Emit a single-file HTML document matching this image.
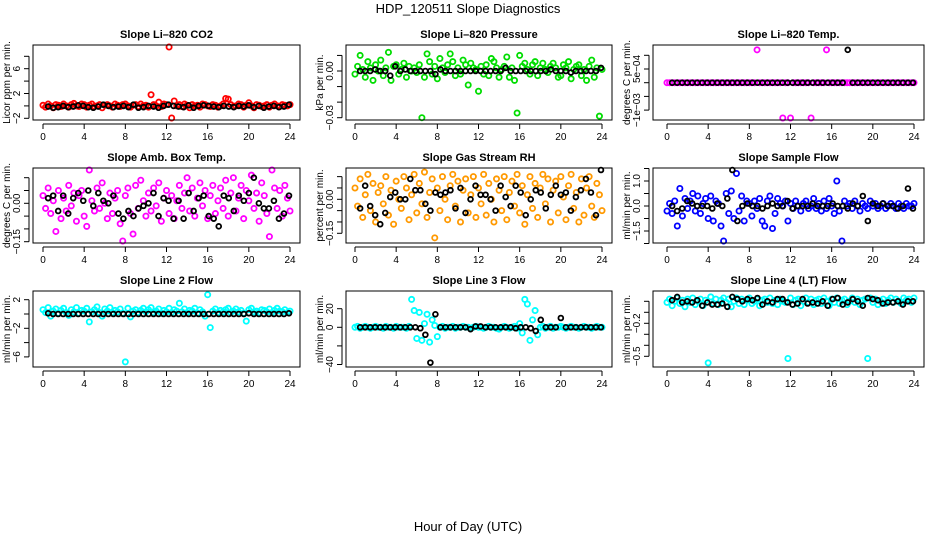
<!DOCTYPE html>
<html><head><meta charset="utf-8">
<style>
html,body{margin:0;padding:0;background:#fff;}
svg{display:block;font-family:"Liberation Sans",Arial,sans-serif;}
</style></head>
<body>
<svg id="chart" width="936" height="540" viewBox="0 0 936 540" xmlns="http://www.w3.org/2000/svg">
<rect width="936" height="540" fill="#fff"/>
<text x="468" y="13" text-anchor="middle" font-size="13">HDP_120511  Slope Diagnostics</text>
<text x="468" y="531" text-anchor="middle" font-size="13">Hour of Day (UTC)</text>
<g id="panels"></g>
</svg>
<script>
// ---- data (values per panel); colored series ~ every 15 min, black series ~ every 30 min ----
const xTicks = [0,4,8,12,16,20,24];

const co2Col = [0.1,-0.2,0.3,0.0,-0.3,0.2,0.1,-0.1,0.3,0.0,-0.2,0.2,0.4,0.0,-0.1,0.3,0.2,-0.2,0.1,0.3,-0.1,0.0,0.2,-0.3,0.1,0.2,0.0,-0.2,0.3,0.1,-0.1,0.2,0.3,0.0,-0.2,0.1,0.2,-0.1,0.3,0.0,0.1,-0.2,1.8,0.2,0.0,0.6,-0.1,0.3,0.2,9.5,-2.0,0.8,0.0,0.2,-0.1,0.3,0.1,-0.3,0.2,0.0,0.1,-0.2,0.3,0.2,0.0,-0.1,0.2,0.1,-0.2,0.0,0.3,1.2,1.1,0.2,-0.1,0.0,0.3,0.2,-0.2,0.1,0.5,0.0,-0.3,0.2,0.1,-0.1,0.0,0.2,-0.2,0.1,0.3,0.0,-0.1,0.2,0.1,0.0,0.2];
const co2Blk = [-0.1,-0.3,-0.2,0.0,-0.2,-0.1,0.1,0.0,-0.2,-0.3,-0.1,0.2,0.0,-0.2,-0.1,0.0,-0.2,0.2,-0.3,-0.2,0.0,-0.1,-0.3,0.0,0.2,0.0,-0.1,-0.2,0.1,-0.3,0.0,0.1,0.0,-0.1,-0.2,0.0,-0.1,-0.2,0.0,-0.1,0.1,-0.2,0.0,-0.3,-0.1,0.0,-0.2,-0.1,0.2];

const presCol = [-0.002,0.003,0.010,0.001,-0.004,0.006,0.002,-0.006,0.004,0.000,0.007,-0.003,0.002,0.012,-0.006,0.003,0.004,-0.002,0.001,0.005,-0.004,0.003,0.000,0.002,-0.001,0.004,-0.030,-0.004,0.011,0.006,-0.002,0.003,-0.005,0.008,0.002,-0.001,0.004,0.011,0.006,-0.003,0.002,-0.002,0.007,0.004,-0.009,0.005,0.002,0.001,-0.013,0.003,-0.002,0.004,-0.003,0.008,0.006,0.002,-0.004,0.001,0.003,0.009,-0.004,0.002,-0.006,-0.027,0.010,0.003,0.005,0.001,-0.002,0.004,0.006,-0.003,0.002,0.005,0.001,-0.001,0.003,0.005,0.002,-0.004,-0.003,0.004,0.002,0.006,-0.005,0.001,0.003,0.004,-0.003,0.001,-0.006,0.003,0.007,-0.004,0.002,-0.029,0.001];
const presBlk = [0.000,0.000,0.000,0.001,0.000,0.000,-0.003,0.003,0.000,0.001,0.000,0.000,0.000,0.000,0.000,-0.002,0.001,0.000,0.000,0.000,0.000,0.000,0.000,0.000,0.000,0.000,0.000,0.000,0.000,0.002,0.000,0.000,0.000,0.000,0.000,0.000,0.000,0.000,0.001,0.000,0.000,0.000,-0.001,0.000,0.000,0.000,0.000,0.000,0.002];

const tempCol = [0,0,0,0,0,0,0,0,0,0,0,0,0,0,0,0,0,0,0,0,0,0,0,0,0,0,0,0,0,0,0,0,0,0,0,0.0012,0,0,0,0,0,0,0,0,0,-0.0013,0,0,-0.0013,0,0,0,0,0,0,0,-0.0013,0,0,0,0,0,0.0012,0,0,0,0,0,0,0,0,0,0,0,0,0,0,0,0,0,0,0,0,0,0,0,0,0,0,0,0,0,0,0,0,0,0];
const tempBlk = [0,0,0,0,0,0,0,0,0,0,0,0,0,0,0,0,0,0,0,0,0,0,0,0,0,0,0,0,0,0,0,0,0,0,0,0.0012,0,0,0,0,0,0,0,0,0,0,0,0,0];

const ambCol = [0.03,-0.02,0.06,-0.04,0.01,-0.11,0.05,-0.06,0.02,-0.03,0.07,-0.01,0.04,-0.07,0.03,0.05,-0.05,-0.09,0.14,0.01,-0.03,0.06,-0.02,0.08,0.0,-0.06,0.04,-0.04,0.02,0.05,-0.08,-0.15,0.03,0.06,-0.04,-0.12,0.07,-0.02,0.09,0.01,-0.05,0.04,-0.03,0.06,-0.01,0.08,-0.07,0.02,0.05,-0.04,0.03,-0.06,0.01,0.07,-0.02,0.04,0.10,-0.03,0.06,-0.05,0.02,0.08,-0.01,0.05,-0.06,0.03,0.07,-0.04,0.01,0.06,-0.02,0.09,-0.05,0.04,0.10,-0.03,0.02,0.07,-0.06,0.05,0.01,0.11,-0.02,0.04,-0.07,0.08,0.03,-0.04,-0.13,0.135,0.06,-0.02,0.05,-0.05,0.07,0.02,-0.03];
const ambBlk = [0.02,0.03,-0.03,0.03,-0.04,0.02,0.04,0.01,0.05,-0.01,0.04,0.01,0.0,0.03,-0.04,-0.06,-0.03,-0.05,-0.02,-0.01,0.0,0.04,-0.05,0.02,0.01,-0.06,0.01,-0.06,0.04,-0.03,0.02,0.03,-0.05,-0.06,-0.09,0.03,0.02,-0.03,0.03,0.01,0.04,0.1,0.0,-0.02,-0.02,0.01,-0.06,-0.04,0.03];

const rhCol = [0.05,-0.03,0.09,-0.08,0.02,0.11,-0.05,0.07,-0.1,0.03,0.06,-0.02,0.1,-0.07,0.04,-0.11,0.08,0.0,-0.04,0.1,0.05,-0.09,0.02,0.11,-0.06,0.07,-0.02,0.12,-0.08,0.03,0.09,-0.17,0.05,-0.05,0.1,0.0,-0.09,0.06,0.11,-0.03,0.08,-0.1,0.04,0.09,-0.06,0.02,0.1,-0.08,0.05,-0.02,0.11,-0.07,0.07,0.0,-0.1,0.09,0.04,-0.05,0.1,-0.09,0.03,0.08,-0.03,0.11,-0.06,0.06,-0.11,0.02,0.1,-0.04,0.07,-0.08,0.05,0.11,-0.02,0.09,-0.1,0.04,0.08,-0.06,0.1,0.01,-0.09,0.06,0.11,-0.04,0.03,-0.1,0.09,-0.07,0.05,0.1,-0.03,-0.08,0.07,0.02,-0.05];
const rhBlk = [-0.04,0.06,-0.03,-0.07,-0.11,-0.06,0.01,0.03,-0.0,0.0,0.09,0.04,0.04,-0.02,-0.05,0.03,0.02,0.03,0.04,-0.04,0.05,-0.06,0.0,0.06,0.02,0.02,0.0,-0.05,0.06,0.01,-0.03,0.06,0.03,-0.07,0.0,0.04,0.03,-0.04,0.02,0.06,0.02,0.03,-0.05,0.01,0.04,0.09,0.03,-0.07,0.13];

const flowCol = [-0.2,0.1,-0.3,0.2,-0.8,0.7,-0.4,0.3,-0.1,0.2,0.5,-0.2,0.4,-0.3,0.1,0.3,-0.5,0.4,-0.6,0.2,0.1,-0.8,-1.4,0.5,-0.3,0.6,-0.5,1.3,-0.2,0.4,-0.6,0.2,0.1,-0.4,0.2,-0.1,0.3,-0.6,-0.8,0.2,0.4,-0.9,-0.3,0.3,0.1,0.0,0.2,-0.6,0.1,-0.1,0.2,0.0,-0.2,0.1,0.2,-0.1,0.0,0.3,-0.1,0.1,-0.2,0.2,-0.1,0.3,0.0,-0.3,1.0,-0.2,-1.4,0.2,0.0,0.1,-0.1,0.2,0.0,-0.2,0.1,0.0,-0.1,0.2,0.0,0.1,-0.1,0.0,0.1,-0.1,0.0,0.1,0.0,-0.1,0.1,0.0,-0.1,0.1,0.0,0.0,0.1];
const flowBlk = [0.0,-0.2,-0.1,0.2,0.1,0.0,0.0,0.0,-0.1,0.1,0.0,0.3,1.5,-0.6,0.0,0.1,0.0,0.0,-0.1,0.0,0.1,0.0,0.0,0.2,-0.1,0.0,0.0,0.0,0.1,0.0,0.0,0.0,0.1,0.0,0.0,-0.1,0.1,0.0,0.4,-0.6,0.1,0.0,0.1,0.0,0.0,-0.1,0.0,0.7,-0.1];

const l2Col = [0.6,0.2,0.9,-0.3,0.4,0.7,0.1,0.5,0.8,0.2,-0.2,0.6,0.3,0.9,0.1,0.5,0.4,0.8,-1.1,0.3,0.6,1.0,0.2,-0.3,0.7,0.4,0.9,0.2,0.5,0.3,0.7,0.1,-6.7,0.8,-0.4,0.4,0.6,0.2,0.5,0.8,0.3,0.6,0.9,0.2,0.4,0.7,0.1,0.5,0.3,0.8,0.2,0.6,0.4,1.5,0.3,0.7,0.2,0.5,0.4,0.8,0.1,0.6,0.3,-0.3,2.7,-1.9,0.4,0.7,0.2,0.5,0.3,0.6,0.8,0.2,0.4,0.7,0.3,0.5,0.1,-1.0,0.6,0.8,0.3,0.4,0.2,0.6,0.5,0.3,0.7,0.2,0.5,0.8,0.4,0.3,0.6,0.2,0.4];
const l2Blk = [0.1,0,0,0,0,0,0,0,0,0,0,0,0,0,0,0,0,0,0,0,0,0,0,0,0,0,0,0,0,0,0,0,0,0,0,0,0,0,0,0,0.1,0,0,0,0,0,0,0,0.1];

const l3Col = [0,1,-1,0,1,0,-1,0,1,0,0,-1,1,0,0,-1,1,0,0,0,-1,1,30,18,-12,16,-14,4,14,-16,8,2,-10,0,1,-1,0,0,1,-1,0,0,1,0,0,-1,0,1,0,0,-1,0,1,0,0,-1,-2,0,1,0,-1,0,1,-1,4,-6,30,25,-14,8,18,-8,0,1,-1,0,1,-1,0,0,1,0,-1,0,1,0,0,-1,0,1,0,0,-1,0,1,0,0];
const l3Blk = [0,0,0,0,0,0,0,0,0,0,0,0,-1,-8,-38,14,0,0,0,0,0,0,-2,1,1,0,0,0,0,0,0,-1,0,0,-1,-4,8,0,0,0,10,0,0,0,0,0,0,0,0];

const l4Col = [-0.01,0.02,-0.04,0.0,0.03,-0.02,0.01,-0.05,0.02,-0.01,0.03,-0.03,0.0,0.02,-0.04,0.01,-0.56,0.04,-0.02,0.02,-0.03,0.01,0.03,-0.01,0.02,-0.05,0.0,0.03,-0.02,0.02,-0.03,0.01,0.03,-0.02,0.0,0.02,-0.04,0.01,0.02,-0.01,0.03,-0.02,0.01,-0.03,0.02,0.0,-0.01,-0.52,0.03,-0.03,0.01,0.02,-0.04,0.0,0.03,-0.01,0.02,-0.03,0.01,0.02,-0.02,0.03,0.0,-0.04,0.02,-0.01,0.03,-0.02,0.01,0.02,-0.03,0.0,0.03,-0.01,0.02,-0.03,0.01,0.02,-0.52,0.03,-0.01,0.02,-0.03,0.0,0.02,-0.02,0.01,0.03,-0.01,0.02,0.0,-0.02,0.03,0.01,0.02,-0.01,0.03];
const l4Blk = [0.01,0.04,-0.01,0.0,-0.01,0.01,-0.04,-0.01,-0.03,-0.03,-0.02,-0.05,0.04,0.02,0.0,0.02,0.01,0.03,-0.03,0.0,-0.01,0.02,0.02,-0.01,-0.03,-0.02,0.02,-0.02,-0.01,-0.02,0.0,-0.04,0.02,0.03,-0.03,-0.01,0.02,0.0,-0.04,0.03,0.02,0.01,-0.02,-0.01,-0.01,0.0,-0.03,0.0,0.0];

// ---- layout ----
const cols = [{x0:33,x1:300,xa:43,xb:290},{x0:346,x1:612,xa:355,xb:602},{x0:653,x1:924,xa:667,xb:914}];
const rows = [{y0:45,y1:120},{y0:168,y1:243},{y0:291,y1:367}];

const panels = [
 {id:'co2',r:0,c:0,title:'Slope Li\u2013820 CO2',ylab:'Licor ppm per min.',color:'#ff0000',col:co2Col,blk:co2Blk,v0:-2,p0:118.3,v1:6,p1:68.7,ticks:[-2,0,2,4,6,8],labels:{'-2':'\u22122','2':'2','6':'6'}},
 {id:'pressure',r:0,c:1,title:'Slope Li\u2013820 Pressure',ylab:'kPa per min.',color:'#00dd00',col:presCol,blk:presBlk,v0:0,p0:71,v1:-0.03,p1:117.7,ticks:[0.01,0,-0.01,-0.02,-0.03],labels:{'0':'0.00','-0.03':'\u22120.03'}},
 {id:'temp',r:0,c:2,title:'Slope Li\u2013820 Temp.',ylab:'degrees C per min.',color:'#ff00ff',col:tempCol,blk:tempBlk,v0:0,p0:82.7,v1:0.0005,p1:69,ticks:[0.001,0.0005,0,-0.0005,-0.001],labels:{'0.0005':'5e\u221204','-0.001':'\u22121e\u221203'}},
 {id:'ambtemp',r:1,c:0,title:'Slope Amb. Box Temp.',ylab:'degrees C per min.',color:'#ff00ff',col:ambCol,blk:ambBlk,v0:0,p0:203.3,v1:-0.15,p1:241.7,ticks:[0.1,0.05,0,-0.05,-0.1,-0.15],labels:{'0':'0.00','-0.15':'\u22120.15'}},
 {id:'rh',r:1,c:1,title:'Slope Gas Stream RH',ylab:'percent per min.',color:'#ff9900',col:rhCol,blk:rhBlk,v0:0,p0:199.3,v1:-0.15,p1:233.3,ticks:[0.1,0.05,0,-0.05,-0.1,-0.15],labels:{'0':'0.00','-0.15':'\u22120.15'}},
 {id:'sampleflow',r:1,c:2,title:'Slope Sample Flow',ylab:'ml/min per min.',color:'#0000ff',col:flowCol,blk:flowBlk,v0:0,p0:206,v1:1,p1:181,ticks:[1.5,1,0.5,0,-0.5,-1,-1.5],labels:{'1':'1.0','0':'0.0','-1':'\u22121.5'}},
 {id:'line2',r:2,c:0,title:'Slope Line 2 Flow',ylab:'ml/min per min.',color:'#00ffff',col:l2Col,blk:l2Blk,v0:0,p0:314,v1:2,p1:299.7,ticks:[2,0,-2,-4,-6],labels:{'2':'2','-2':'\u22122','-6':'\u22126'}},
 {id:'line3',r:2,c:1,title:'Slope Line 3 Flow',ylab:'ml/min per min.',color:'#00ffff',col:l3Col,blk:l3Blk,v0:0,p0:327.3,v1:20,p1:308.7,ticks:[20,0,-20,-40],labels:{'20':'20','0':'0','-40':'\u221240'}},
 {id:'line4',r:2,c:2,title:'Slope Line 4 (LT) Flow',ylab:'ml/min per min.',color:'#00ffff',col:l4Col,blk:l4Blk,v0:0,p0:301.3,v1:-0.1,p1:312.3,ticks:[0,-0.1,-0.2,-0.3,-0.4,-0.5],labels:{'-0.2':'\u22120.2','-0.5':'\u22120.5'}}
];

const NS='http://www.w3.org/2000/svg';
const root=document.getElementById('panels');
function mk(tag,attrs,parent){const e=document.createElementNS(NS,tag);for(const k in attrs)e.setAttribute(k,attrs[k]);parent.appendChild(e);return e;}

panels.forEach(p=>{
  const C=cols[p.c],R=rows[p.r];
  const xs=h=>C.xa+(h/24)*(C.xb-C.xa);
  const ys=v=>p.p0+(v-p.v0)*(p.p1-p.p0)/(p.v1-p.v0);
  const clampY=y=>Math.max(R.y0+2,Math.min(R.y1-2,y));
  const g=mk('g',{},root);
  
  
  const t=mk('text',{x:(C.x0+C.x1)/2,y:R.y0-7,'text-anchor':'middle','font-size':'11','font-weight':'bold'},g);
  t.textContent=p.title;
  
  
  const gc=mk('g',{},g);
  
  
  const n=p.col.length;
  p.col.forEach((v,i)=>{
    const h=i*24/(n-1);
    const c=mk('circle',{cx:xs(h),cy:clampY(ys(v)),r:2.6,fill:'none',stroke:p.color,'stroke-width':1.8},gc);
    
    
  });
  const gb=mk('g',{},g);
  
  
  const m=p.blk.length;
  p.blk.forEach((v,i)=>{
    const h=0.5+i*23.4/(m-1);
    const c=mk('circle',{cx:xs(h),cy:clampY(ys(v)),r:2.4,fill:'none',stroke:'#000','stroke-width':1.8},gb);
    
    
  });
  const b=mk('rect',{x:C.x0,y:R.y0,width:C.x1-C.x0,height:R.y1-R.y0,fill:'none',stroke:'#000','stroke-width':1},g);
  
  
  const ax=mk('g',{},g);
  
  
  mk('line',{x1:xs(0),x2:xs(24),y1:R.y1+4,y2:R.y1+4,stroke:'#000'},ax);
  xTicks.forEach(h=>{
    mk('line',{x1:xs(h),x2:xs(h),y1:R.y1+4,y2:R.y1+9,stroke:'#000'},ax);
    const tl=mk('text',{x:xs(h),y:R.y1+20,'text-anchor':'middle','font-size':'10'},ax);
    tl.textContent=h;
  });
  const ay=mk('g',{},g);
  
  
  const ax0=C.x0-4;
  const tps=p.ticks.map(ys);
  mk('line',{x1:ax0,x2:ax0,y1:Math.min(...tps),y2:Math.max(...tps),stroke:'#000'},ay);
  p.ticks.forEach(v=>{
    const y=ys(v);
    mk('line',{x1:ax0-5,x2:ax0,y1:y,y2:y,stroke:'#000'},ay);
    const key=String(v);
    if(p.labels[key]!==undefined){
      const tl=mk('text',{x:0,y:0,'text-anchor':'middle','font-size':'10',transform:`translate(${ax0-9},${y}) rotate(-90)`},ay);
      tl.textContent=p.labels[key];
    }
  });
  const yl=mk('text',{x:0,y:0,'text-anchor':'middle','font-size':'10',transform:`translate(${C.x0-23},${(R.y0+R.y1)/2}) rotate(-90)`},g);
  yl.textContent=p.ylab;
  
  
});
</script>
</body></html>
